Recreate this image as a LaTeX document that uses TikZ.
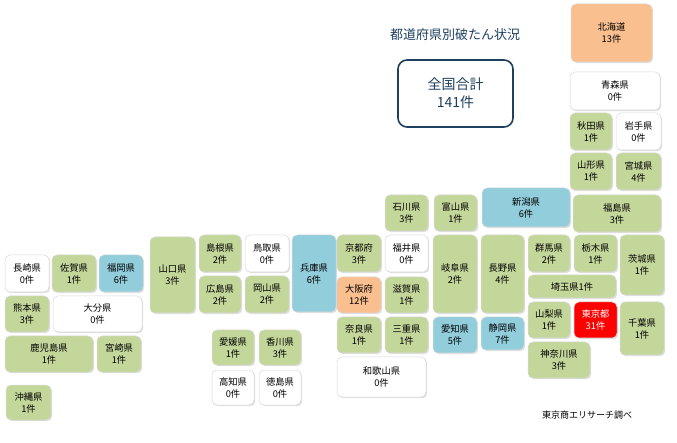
\documentclass[tikz,border=0pt]{standalone}
\usepackage{fontspec}
\setmainfont{Noto Sans CJK JP}
\usetikzlibrary{shadows}
\definecolor{pg}{HTML}{C4D79B}
\definecolor{pb}{HTML}{92CDDC}
\definecolor{po}{HTML}{FABF8F}
\definecolor{pw}{HTML}{FFFFFF}
\definecolor{pr}{HTML}{FF0000}
\definecolor{tb}{HTML}{1F3F60}
\newcommand\pref[7]{\node[pbox,fill=#6,minimum width={(#4-#2)*1pt},minimum height={(#5-#3)*1pt}] (#1) at ({(#2+#4)/2},{-(#3+#5)/2}) {#7};}
\begin{document}
\begin{tikzpicture}[x=1pt,y=1pt,
  pbox/.style={rounded corners=5pt,draw=white!85!black,line width=0.5pt,align=center,inner sep=1pt,font=\fontsize{9.3}{12}\selectfont,drop shadow={opacity=0.25,shadow xshift=1.2pt,shadow yshift=-1.2pt}}]
\useasboundingbox[fill=white] (0,0) rectangle (677,-443);
\node[font=\fontsize{13}{15}\selectfont,text=tb] (title) at (455,-35) {都道府県別破たん状況};
\node[draw=tb,line width=1.6pt,rounded corners=9pt,minimum width=115pt,minimum height=67pt,align=center,text=tb,font=\fontsize{14}{18}\selectfont] (total) at (455.5,-93.5) {全国合計\\141件};
\pref{hok}{571}{4}{652}{62}{po}{北海道\\13件}
\pref{aom}{570}{72}{660}{110}{pw}{青森県\\0件}
\pref{aki}{570}{113}{612}{150}{pg}{秋田県\\1件}
\pref{iwa}{616}{113}{661}{150}{pw}{岩手県\\0件}
\pref{yag}{570}{153}{612}{190}{pg}{山形県\\1件}
\pref{miy}{616}{153}{661}{190}{pg}{宮城県\\4件}
\pref{fks}{573}{195}{661}{232}{pg}{福島県\\3件}
\pref{nii}{482}{188}{570}{227}{pb}{新潟県\\6件}
\pref{ish}{385}{195}{428}{231}{pg}{石川県\\3件}
\pref{toy}{434}{195}{477}{231}{pg}{富山県\\1件}
\pref{kyo}{337}{235}{381}{272}{pg}{京都府\\3件}
\pref{fki}{385}{235}{428}{272}{pw}{福井県\\0件}
\pref{osa}{337}{277}{381}{313}{po}{大阪府\\12件}
\pref{shi}{385}{277}{428}{313}{pg}{滋賀県\\1件}
\pref{gif}{433}{235}{477}{313}{pg}{岐阜県\\2件}
\pref{nag}{481}{235}{524}{313}{pg}{長野県\\4件}
\pref{gun}{528}{235}{570}{272}{pg}{群馬県\\2件}
\pref{toc}{574}{235}{617}{272}{pg}{栃木県\\1件}
\pref{iba}{620}{235}{664}{295}{pg}{茨城県\\1件}
\pref{sai}{528}{275}{616}{298}{pg}{埼玉県1件}
\pref{yam}{528}{302}{570}{338}{pg}{山梨県\\1件}
\pref{tok}{574}{302}{617}{338}{pr}{\color{white}東京都\\\color{white}31件}
\pref{chi}{620}{302}{664}{355}{pg}{千葉県\\1件}
\pref{kan}{528}{342}{590}{378}{pg}{神奈川県\\3件}
\pref{nar}{337}{317}{381}{353}{pg}{奈良県\\1件}
\pref{mie}{385}{317}{428}{353}{pg}{三重県\\1件}
\pref{aic}{433}{317}{477}{353}{pb}{愛知県\\5件}
\pref{shz}{481}{317}{524}{350}{pb}{静岡県\\7件}
\pref{wak}{337}{357}{426}{397}{pw}{和歌山県\\0件}
\pref{hyo}{292}{235}{336}{312}{pb}{兵庫県\\6件}
\pref{shm}{199}{235}{241}{272}{pg}{島根県\\2件}
\pref{tot}{245}{235}{289}{272}{pw}{鳥取県\\0件}
\pref{hir}{199}{276}{241}{313}{pg}{広島県\\2件}
\pref{oky}{245}{276}{289}{313}{pg}{岡山県\\2件}
\pref{ygc}{150}{237}{195}{313}{pg}{山口県\\3件}
\pref{ehi}{212}{330}{254}{365}{pg}{愛媛県\\1件}
\pref{kag}{259}{330}{301}{365}{pg}{香川県\\3件}
\pref{koc}{212}{370}{254}{405}{pw}{高知県\\0件}
\pref{tku}{259}{370}{301}{405}{pw}{徳島県\\0件}
\pref{ngs}{5}{255}{49}{292}{pw}{長崎県\\0件}
\pref{sag}{52}{255}{96}{292}{pg}{佐賀県\\1件}
\pref{fko}{99}{255}{143}{292}{pb}{福岡県\\6件}
\pref{kum}{5}{296}{49}{332}{pg}{熊本県\\3件}
\pref{oit}{53}{296}{142}{332}{pw}{大分県\\0件}
\pref{kgs}{5}{336}{93}{372}{pg}{鹿児島県\\1件}
\pref{myz}{97}{336}{141}{372}{pg}{宮崎県\\1件}
\pref{oki}{6}{385}{51}{420}{pg}{沖縄県\\1件}
\node[font=\fontsize{9}{10}\selectfont] (src) at (587,-415) {東京商エリサーチ調べ};
\end{tikzpicture}
\end{document}
